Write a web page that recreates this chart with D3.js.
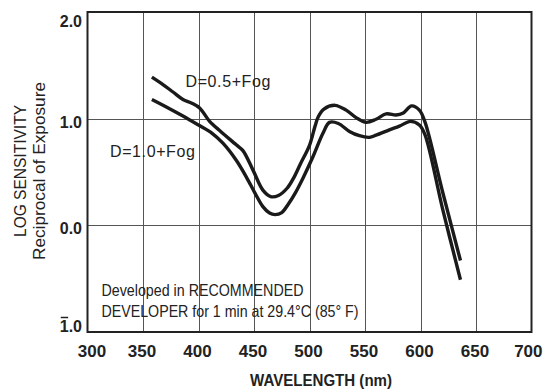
<!DOCTYPE html>
<html>
<head>
<meta charset="utf-8">
<script src="https://cdn.jsdelivr.net/npm/d3@7"></script>
<style>
  body { margin: 0; background: #fff; }
  text { font-family: "Liberation Sans", Arial, sans-serif; fill: #222; }
</style>
</head>
<body>
<svg id="chart"></svg>
<script>
// wavelength ticks and log sensitivity ticks
const xTicks = [300, 350, 400, 450, 500, 550, 600, 650, 700];
const yTicks = [-1, 0, 1, 2];

// D=0.5+Fog curve (nm, log sensitivity)
const upperNm  = [358, 368, 377, 386, 394, 401, 410, 420, 434, 440, 449, 458, 465, 472, 480, 486, 492, 500, 505, 508, 513, 523, 533, 542, 551, 560, 569, 578, 584, 592, 599, 604, 620, 636];
const upperLog = [1.39, 1.32, 1.25, 1.18, 1.145, 1.10, 0.975, 0.88, 0.755, 0.70, 0.52, 0.33, 0.27, 0.28, 0.35, 0.45, 0.58, 0.75, 0.93, 1.02, 1.09, 1.125, 1.08, 1.01, 0.965, 0.995, 1.045, 1.035, 1.05, 1.12, 1.08, 0.97, 0.31, -0.33];

// D=1.0+Fog curve
const lowerNm  = [358, 371, 386, 400, 412, 422, 434, 443, 451, 458, 464, 469, 475, 481, 487, 494, 503, 512, 518, 526, 536, 545, 554, 560, 572, 581, 591, 599, 604, 620, 636];
const lowerLog = [1.18, 1.11, 1.025, 0.94, 0.865, 0.77, 0.61, 0.455, 0.30, 0.175, 0.115, 0.10, 0.12, 0.20, 0.30, 0.44, 0.64, 0.86, 0.965, 0.955, 0.88, 0.84, 0.825, 0.845, 0.895, 0.93, 0.975, 0.94, 0.85, 0.15, -0.51];

const curveLabels = ["D=0.5+Fog", "D=1.0+Fog"];
const noteLines = ["Developed in RECOMMENDED", "DEVELOPER for 1 min at 29.4°C (85° F)"];
const xTitle = "WAVELENGTH (nm)";
const yTitle = ["LOG SENSITIVITY", "Reciprocal of Exposure"];

const svgWidth = 543, svgHeight = 391;
const plot = {left: 87.5, right: 531.5, top: 12, bottom: 332};

const svg = d3.select("#chart")
    .attr("width", svgWidth)
    .attr("height", svgHeight);

const x = d3.scaleLinear().domain([300, 700]).range([plot.left, plot.right]);
const y = d3.scaleLinear().domain([-1, 2]).range([plot.bottom, plot.top]);

// grid
svg.append("g")
    .selectAll("line")
    .data(xTicks.slice(1, -1))
    .join("line")
    .attr("x1", d => Math.round(x(d)) + 0.5)
    .attr("x2", d => Math.round(x(d)) + 0.5)
    .attr("y1", plot.top)
    .attr("y2", plot.bottom)
    .attr("stroke", "#555")
    .attr("stroke-width", 1);

svg.append("g")
    .selectAll("line")
    .data([0, 1])
    .join("line")
    .attr("x1", plot.left)
    .attr("x2", plot.right)
    .attr("y1", d => Math.round(y(d)) + 0.5)
    .attr("y2", d => Math.round(y(d)) + 0.5)
    .attr("stroke", "#555")
    .attr("stroke-width", 1);

// frame
svg.append("rect")
    .attr("x", plot.left)
    .attr("y", plot.top)
    .attr("width", plot.right - plot.left)
    .attr("height", plot.bottom - plot.top)
    .attr("fill", "none")
    .attr("stroke", "#222")
    .attr("stroke-width", 2);

// x axis
const xAxis = svg.append("g")
    .attr("transform", "translate(0," + plot.bottom + ")")
    .call(d3.axisBottom(x).tickValues(xTicks).tickSize(0).tickPadding(13).tickFormat(d3.format("d")));
xAxis.select(".domain").remove();
xAxis.selectAll("text")
    .attr("dx", d => d === 300 ? 4 : -1.5)
    .style("font-family", "'Liberation Sans', Arial, sans-serif")
    .style("font-size", "17px")
    .style("font-weight", "bold")
    .style("fill", "#222");
// last label kept inside the page edge
xAxis.selectAll("text")
    .filter(d => d === 700)
    .attr("text-anchor", "end")
    .attr("dx", null)
    .attr("x", svgWidth - 1 - x(700));

// y axis (negative values in bar notation)
const yAxis = svg.append("g")
    .attr("transform", "translate(" + plot.left + ",0)")
    .call(d3.axisLeft(y).tickValues(yTicks).tickSize(0).tickPadding(5.5)
        .tickFormat(d => Math.abs(d).toFixed(1)));
yAxis.select(".domain").remove();
yAxis.selectAll(".tick").attr("transform", null);
yAxis.selectAll("text")
    .attr("dy", null)
    .attr("y", d => Math.min(Math.max(y(d) + 9, 27), 331.5))
    .style("font-family", "'Liberation Sans', Arial, sans-serif")
    .style("font-size", "16px")
    .style("font-weight", "bold")
    .style("fill", "#222")
    .each(function (d) {
        if (d < 0) {
            const p0 = this.getStartPositionOfChar(0);
            const p1 = this.getEndPositionOfChar(0);
            d3.select(this.parentNode).append("line")
                .attr("x1", p0.x + 1).attr("x2", p1.x - 0.5)
                .attr("y1", p0.y - 14).attr("y2", p0.y - 14)
                .attr("stroke", "#222").attr("stroke-width", 1.5);
        }
    });

// curves
const line = d3.line()
    .x(d => x(d[0]))
    .y(d => y(d[1]))
    .curve(d3.curveCatmullRom.alpha(0.5));

[[upperNm, upperLog], [lowerNm, lowerLog]].forEach(function (s) {
    svg.append("path")
        .datum(s[0].map((v, i) => [v, s[1][i]]))
        .attr("fill", "none")
        .attr("stroke", "#1a1a1a")
        .attr("stroke-width", 3.4)
        .attr("stroke-linejoin", "round")
        .attr("stroke-linecap", "butt")
        .attr("d", line);
});

// curve labels
svg.append("text")
    .attr("x", 185.5).attr("y", 86.5)
    .style("font-size", "16px")
    .style("letter-spacing", "0.6px")
    .text(curveLabels[0]);
svg.append("text")
    .attr("x", 110).attr("y", 157)
    .style("font-size", "16px")
    .style("letter-spacing", "0.6px")
    .text(curveLabels[1]);

// development note
svg.selectAll(".note")
    .data(noteLines)
    .join("text")
    .attr("class", "note")
    .attr("x", 101.5)
    .attr("y", (d, i) => 296 + i * 21)
    .attr("textLength", (d, i) => i === 0 ? 202 : 257)
    .attr("lengthAdjust", "spacingAndGlyphs")
    .style("font-size", "16.5px")
    .text(d => d);

// axis titles
svg.append("text")
    .attr("x", 321).attr("y", 386)
    .attr("text-anchor", "middle")
    .attr("textLength", 142)
    .attr("lengthAdjust", "spacingAndGlyphs")
    .style("font-size", "16px")
    .style("font-weight", "bold")
    .text(xTitle);

svg.selectAll(".ytitle")
    .data(yTitle)
    .join("text")
    .attr("class", "ytitle")
    .attr("transform", (d, i) => "translate(" + (i === 0 ? 26 : 45) + ",171) rotate(-90)")
    .attr("text-anchor", "middle")
    .attr("textLength", (d, i) => i === 0 ? 132 : 178)
    .attr("lengthAdjust", "spacingAndGlyphs")
    .style("font-size", "17px")
    .text(d => d);
</script>
</body>
</html>
